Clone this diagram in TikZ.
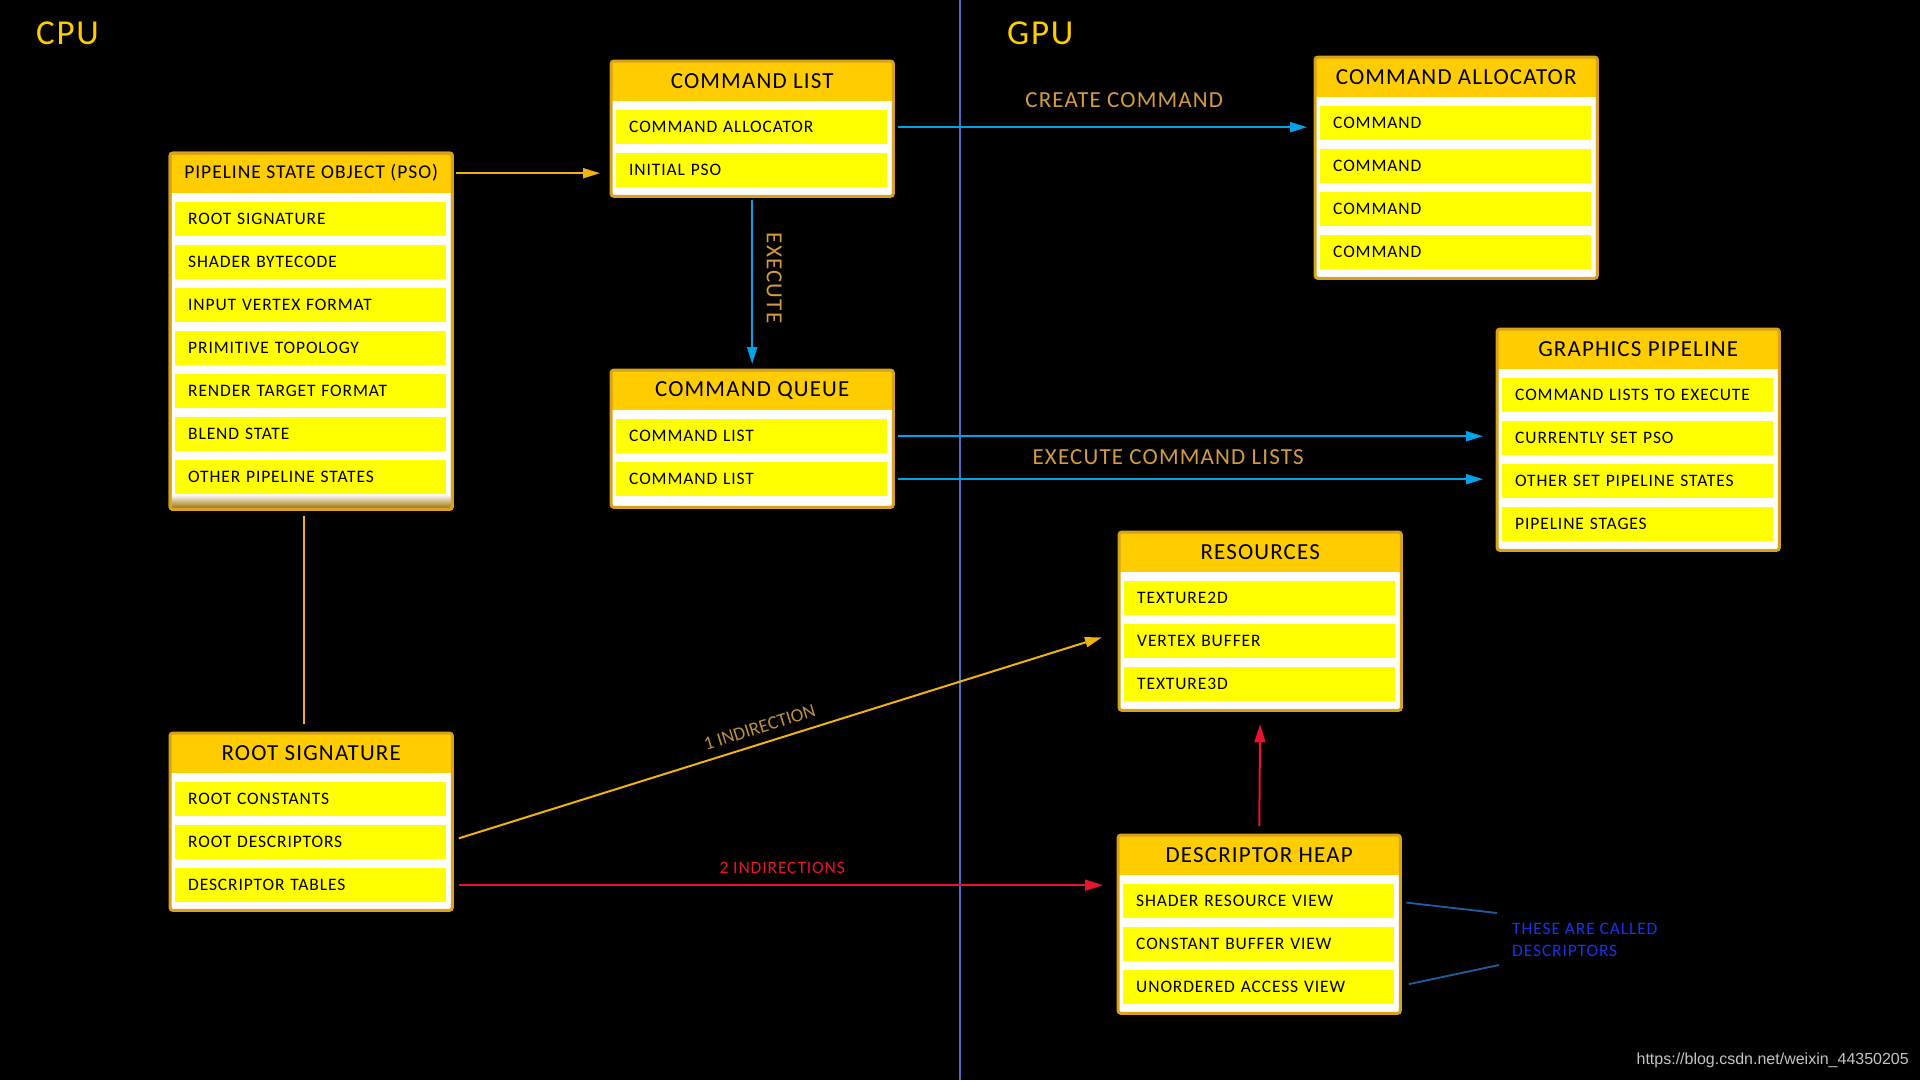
\documentclass[tikz,border=0pt]{standalone}
\usepackage{fontspec}
\setmainfont{Carlito}[LetterSpace=5]
\newfontfamily\plainfont{Carlito}
\newfontfamily\wmfont{Liberation Sans}
\usetikzlibrary{arrows.meta,calc}
\definecolor{hdrgold}{HTML}{FFCC00}
\definecolor{itemyel}{HTML}{FFFF00}
\definecolor{boxedge}{HTML}{D9A21B}
\definecolor{cyanarr}{HTML}{00A2E8}
\definecolor{goldarr}{HTML}{F2B311}
\definecolor{redarr}{HTML}{E8132D}
\definecolor{lbltan}{HTML}{D49C42}
\definecolor{lbltantwo}{HTML}{BC9140}
\definecolor{divblue}{HTML}{4A6FC2}
\definecolor{descblue}{HTML}{1535E8}
\definecolor{descline}{HTML}{1E5FA3}
\definecolor{wmgray}{HTML}{C4C4C4}
\newcommand\fItem{\fontsize{17.5pt}{20pt}\selectfont}
\newcommand\fTitle{\fontsize{23pt}{26pt}\selectfont}
\newcommand\fPso{\fontsize{19.5pt}{22pt}\selectfont}
\newcommand\fLbl{\fontsize{23pt}{26pt}\selectfont}
\newcommand\fSmall{\fontsize{17.5pt}{20pt}\selectfont}
\newcommand\fSlope{\plainfont\fontsize{19pt}{22pt}\selectfont}
\newcommand\fDesc{\fontsize{17.5pt}{22pt}\selectfont}
\newcommand\fBig{\fontsize{35pt}{40pt}\selectfont}
\tikzset{
 boxframe/.style={rectangle, fill=white, inner sep=0pt, minimum width=282pt, anchor=north west},
 hdr/.style={rectangle, fill=hdrgold, inner sep=0pt, minimum width=282pt, minimum height=40pt, anchor=north west, text=black, font=\fTitle},
 itm/.style={rectangle, fill=itemyel, anchor=north west, minimum height=34pt, text width=245pt, inner xsep=13pt, inner ysep=0pt, align=left, font=\fItem, text=black},
 boxline/.style={draw=boxedge, line width=3pt, rounded corners=3pt},
 barrow/.style={draw=cyanarr, line width=2pt, -{Triangle[length=17pt,width=10pt]}},
 garrow/.style={draw=goldarr, line width=2pt, -{Triangle[length=17pt,width=10pt]}},
 rarrow/.style={draw=redarr, line width=2pt, -{Triangle[length=18pt,width=11pt]}},
 gline/.style={draw=goldarr, line width=2pt},
 divline/.style={draw=divblue, line width=1.5pt},
 dline/.style={draw=descline, line width=1.8pt},
 lbl/.style={text=lbltan, font=\fLbl, inner sep=2pt},
 lblsmall/.style={text=lbltantwo, font=\fSlope, inner sep=3pt},
 redlbl/.style={text=redarr, font=\fSmall, inner sep=3pt},
 cornerlbl/.style={text=hdrgold, font=\fBig, inner sep=0pt, anchor=west}
}
\newcommand{\dbox}[7]{%
 \pgfmathsetmacro{\dbH}{49+43*(#4-1)+34+#5}%
 \node[boxframe, minimum height=\dbH pt] (#1) at (#2,#3) {};
 \node[hdr] (#1-t) at (#2,#3) {#6};
 \foreach \txt [count=\i] in {#7} {
   \node[itm] (#1-\i) at ({#2+5},{#3+49+43*(\i-1)}) {\txt};
 }
 \draw[boxline] (#1.north west) rectangle (#1.south east);
}
\begin{document}
\begin{tikzpicture}[x=1pt,y=-1pt]
\fill[black] (0,0) rectangle (1920,1080);
\path[use as bounding box] (0,0) rectangle (1920,1080);

% divider
\coordinate (divtop) at (960,0);
\coordinate (divbot) at (960,1080);
\draw[divline] (divtop) -- (divbot);

\node[cornerlbl] (cpu) at (36,33) {CPU};
\node[cornerlbl] (gpu) at (1007,33) {GPU};

% boxes
\dbox{pso}{170}{153}{7}{15}{{\fPso PIPELINE STATE OBJECT (PSO)}}{ROOT SIGNATURE, SHADER BYTECODE, INPUT VERTEX FORMAT, PRIMITIVE TOPOLOGY, RENDER TARGET FORMAT, BLEND STATE, OTHER PIPELINE STATES}
\shade[top color=white, bottom color=boxedge!75!black] ([xshift=2pt,yshift=15pt]pso.south west) rectangle ([xshift=-2pt,yshift=2pt]pso.south east);
\draw[boxline] (pso.north west) rectangle (pso.south east);

\dbox{cl}{611}{61}{2}{9}{COMMAND LIST}{COMMAND ALLOCATOR, INITIAL PSO}
\dbox{cq}{611}{370}{2}{11}{COMMAND QUEUE}{COMMAND LIST, COMMAND LIST}
\dbox{ca}{1315}{57}{4}{9}{COMMAND ALLOCATOR}{COMMAND, COMMAND, COMMAND, COMMAND}
\dbox{gp}{1497}{329}{4}{9}{GRAPHICS PIPELINE}{COMMAND LISTS TO EXECUTE, CURRENTLY SET PSO, OTHER SET PIPELINE STATES, PIPELINE STAGES}
\dbox{res}{1119}{532}{3}{9}{RESOURCES}{TEXTURE2D, VERTEX BUFFER, TEXTURE3D}
\dbox{dh}{1118}{835}{3}{9}{DESCRIPTOR HEAP}{SHADER RESOURCE VIEW, CONSTANT BUFFER VIEW, UNORDERED ACCESS VIEW}
\dbox{rs}{170}{733}{3}{8}{ROOT SIGNATURE}{ROOT CONSTANTS, ROOT DESCRIPTORS, DESCRIPTOR TABLES}

% PSO -> command list
\draw[garrow, shorten <=4pt, shorten >=11pt] (pso-t.east) -- (pso-t.east -| cl.west);

% command list -> command allocator
\draw[barrow, shorten <=11pt, shorten >=8pt] (cl-1.east) -- (cl-1.east -| ca.west);
\node[lbl] (createlbl) at ($(cl-1.east)!0.5!(cl-1.east -| ca.west)+(23,-27)$) {CREATE COMMAND};

% execute
\draw[barrow, shorten <=4pt, shorten >=6pt] (cl.south) -- (cq.north);
\node[lbl, rotate=-90] (exlbl) at ($(cl.south)!0.5!(cq.north)+(22,-5)$) {EXECUTE};

% command queue -> graphics pipeline
\draw[barrow, shorten <=11pt, shorten >=14pt] (cq-1.east) -- (cq-1.east -| gp.west);
\draw[barrow, shorten <=11pt, shorten >=14pt] (cq-2.east) -- (cq-2.east -| gp.west);
\node[lbl] (execlbl) at ($(cq-1.east)!0.5!(cq-2.east -| gp.west)+(-24,-1)$) {EXECUTE COMMAND LISTS};

% PSO -- root signature
\draw[gline, shorten <=7pt, shorten >=9pt] ([xshift=-7pt]pso.south) -- ([xshift=-7pt]rs.north);

% 1 indirection
\coordinate (ind1) at ($(res-2.west)+(-22,-4)$);
\draw[garrow, shorten <=13pt] (rs-2.east) -- (ind1) node[lblsmall, sloped, pos=0.485, above=6pt] {1 INDIRECTION};

% 2 indirections
\draw[rarrow, shorten <=13pt, shorten >=15pt] (rs-3.east) -- (rs-3.east -| dh.west) node[redlbl, pos=0.5, above=8pt] {2 INDIRECTIONS};

% descriptor heap -> resources
\draw[rarrow, shorten <=9pt, shorten >=14pt] (dh.north) -- (res.south);

% descriptors note
\node[anchor=west, inner sep=3pt, text=descblue, font=\fDesc, align=left] (desc) at (1509,940) {THESE ARE CALLED\\DESCRIPTORS};
\coordinate (d1) at ($(desc.west)+(-12,-27)$);
\coordinate (d2) at ($(desc.west)+(-10,25)$);
\draw[dline, shorten <=12pt] (dh-1.east) -- (d1);
\draw[dline, shorten <=15pt] (dh-3.east) -- (d2);

% watermark
\node[anchor=east, inner sep=0pt, font={\wmfont\fontsize{16pt}{18pt}\selectfont}, text=wmgray] (wm) at (1909,1060) {https://blog.csdn.net/weixin\_44350205};
\end{tikzpicture}
\end{document}
